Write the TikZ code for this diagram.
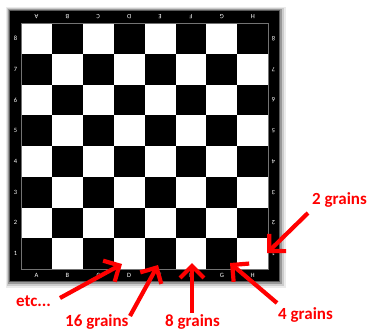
\documentclass[tikz,border=0pt]{standalone}
\usepackage{fontspec}
\setmainfont{Carlito}
\usetikzlibrary{arrows.meta}
\begin{document}
\begin{tikzpicture}[x=1pt,y=-1pt,
  lbl/.style={text=white,font=\fontsize{6.5}{7}\selectfont, inner sep=0pt},
  grain/.style={text=red,font=\bfseries\fontsize{17}{19}\selectfont, inner sep=0pt, anchor=base west},
  redarrow/.style={draw=red,line width=4.2pt,-{Straight Barb[length=12pt,width=24pt]}}]
\useasboundingbox (0,0) rectangle (377,329);
\fill[white] (0,0) rectangle (377,329);
% frame with soft shadow
\fill[black!8] (6,7) rectangle (286,288);
\fill[black!20] (7,8) rectangle (284,286);
\fill[black!40] (8,9) rectangle (282,284);
\fill[black!65] (9,10) rectangle (280,282);
\fill[black] (10,11) rectangle (279,281);
% squares
\def\sx{30.9}\def\sy{30.75}
\foreach \i in {0,...,7}{
  \foreach \j in {0,...,7}{
    \pgfmathtruncatemacro\p{mod(\i+\j,2)}
    \ifnum\p=0
      \fill[white] ({21+\i*\sx},{23+\j*\sy}) rectangle ++(\sx,\sy);
    \fi
  }
}
\draw[black!55,line width=0.7pt] (21,23) rectangle (268,269);
% file letters
\foreach \l [count=\k from 0] in {A,B,C,D,E,F,G,H}{
  \node[lbl] (bot\l) at ({21+(\k+0.5)*\sx},275) {\l};
  \node[lbl,rotate=180] (top\l) at ({21+(\k+0.5)*\sx},17) {\l};
}
% rank numbers
\foreach \n [count=\k from 0] in {8,7,6,5,4,3,2,1}{
  \node[lbl] (left\n) at (15.5,{23+(\k+0.5)*\sy}) {\n};
  \node[lbl,rotate=180] (right\n) at (273.5,{23+(\k+0.5)*\sy}) {\n};
}
% texts
\node[grain] (g2) at (312,204) {2 grains};
\node[grain] (g4) at (278,319) {4 grains};
\node[grain] (g8) at (165,326) {8 grains};
\node[grain] (g16) at (65,326) {16 grains};
\node[grain] (etc) at (16,306) {etc...};
% arrow ends
\coordinate (t2) at (308,213);   \coordinate (h2) at (267,253);
\coordinate (t4) at (277,303);   \coordinate (h4) at (230,263);
\coordinate (t8) at (192,313);   \coordinate (h8) at (192,263);
\coordinate (t16) at (130,316);  \coordinate (h16) at (158,265);
\coordinate (tetc) at (60,298);  \coordinate (hetc) at (122,264);
\draw[redarrow] (t2) -- (h2);
\draw[redarrow] (t4) -- (h4);
\draw[redarrow] (t8) -- (h8);
\draw[redarrow] (t16) -- (h16);
\draw[redarrow] (tetc) -- (hetc);
\end{tikzpicture}
\end{document}
